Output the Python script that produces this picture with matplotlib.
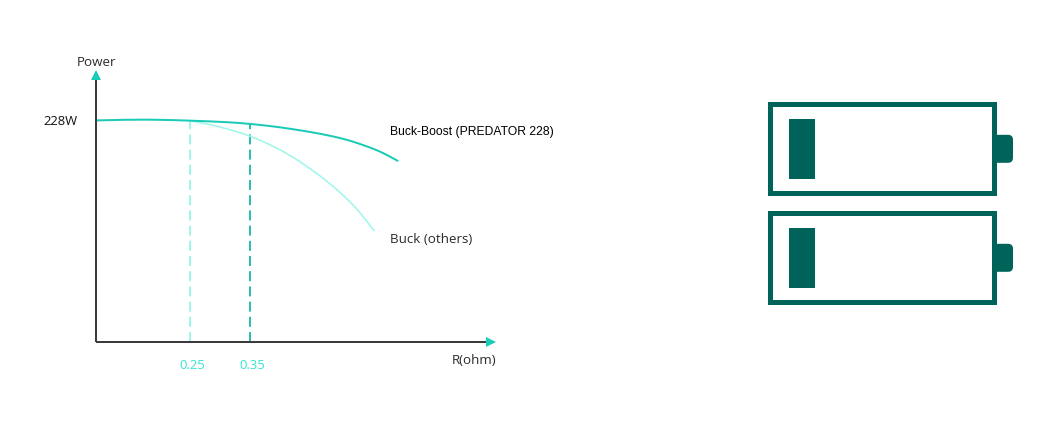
import matplotlib
matplotlib.use("Agg")
import matplotlib.pyplot as plt
from matplotlib.patches import Rectangle, FancyBboxPatch, PathPatch
from matplotlib.path import Path
from matplotlib.transforms import ScaledTranslation

W, H = 1049, 425

# Data
r_boost = [0.093, 0.15, 0.20, 0.25, 0.30, 0.333, 0.367, 0.40, 0.433, 0.467, 0.50, 0.517, 0.533, 0.55, 0.567, 0.583, 0.597]
p_boost = [227.5, 228.4, 228.2, 227.3, 226.1, 224.9, 222.9, 220.5, 217.4, 213.9, 209.5, 206.6, 203.4, 199.7, 195.5, 190.5, 185.7]
r_buck = [0.25, 0.275, 0.30, 0.325, 0.35, 0.383, 0.417, 0.45, 0.483, 0.517, 0.537, 0.557]
p_buck = [227.0, 224.4, 220.8, 216.5, 211.6, 202.8, 191.8, 178.2, 163.0, 144.1, 130.4, 114.0]
marks_r = [0.25, 0.35]
marks_p = [227.3, 224.2]
mark_labels = ["0.25", "0.35"]
y_tick = [228]
y_tick_labels = ["228W"]
name_boost = "Buck-Boost (PREDATOR 228)"
name_buck = "Buck (others)"
x_name = "R(ohm)"
y_name = "Power"

TEAL = "#1ccab8"
LIGHT = "#9ff7ea"
MID = "#2cbfb0"
CYAN = "#35e3d3"
DARK = "#00635a"
AXIS = "#3d3a3d"
TEXT = "#2b2b2b"
SANS = ["Open Sans", "Noto Sans", "DejaVu Sans"]


def smooth_path(xs, ys):
    """Quadratic curve using the read points as control points."""
    verts = [(xs[0], ys[0])]
    codes = [Path.MOVETO]
    for i in range(1, len(xs) - 1):
        end = (xs[i + 1], ys[i + 1]) if i == len(xs) - 2 else ((xs[i] + xs[i + 1]) / 2, (ys[i] + ys[i + 1]) / 2)
        verts += [(xs[i], ys[i]), end]
        codes += [Path.CURVE3, Path.CURVE3]
    return Path(verts, codes)


fig = plt.figure(figsize=(W / 100, H / 100), dpi=100, facecolor="white")

# Chart axes: pixel box 96..490 horizontally, 342..80 vertically
ax = fig.add_axes([96 / W, 1 - 342 / H, (490 - 96) / W, (342 - 80) / H])
ax.set_xlim(0.0933, 0.75)
ax.set_ylim(0, 269)
ax.patch.set_alpha(0)
for s in ax.spines.values():
    s.set_visible(False)

px = 0.72  # one pixel in points
ax.vlines(marks_r[0], 0, marks_p[0], color=LIGHT, lw=2 * px, linestyles=(0, (5, 2.6)), zorder=2)
ax.vlines(marks_r[1], 0, marks_p[1], color=MID, lw=2 * px, linestyles=(0, (5, 2.6)), zorder=2)
ax.add_patch(PathPatch(smooth_path(r_buck, p_buck), fc="none", ec=LIGHT, lw=1.6 * px, zorder=3, capstyle="butt"))
ax.add_patch(PathPatch(smooth_path(r_boost, p_boost), fc="none", ec=TEAL, lw=2 * px, zorder=4, capstyle="butt"))

# Axis lines with arrow heads
ax.plot([0, 0.995], [0, 0], transform=ax.transAxes, color=AXIS, lw=2 * px, clip_on=False, zorder=5, solid_capstyle="butt")
ax.plot([0, 0], [0, 1.01], transform=ax.transAxes, color=AXIS, lw=2 * px, clip_on=False, zorder=5, solid_capstyle="butt")
ax.plot([1.0025], [0], transform=ax.transAxes, marker=">", ms=7, mfc=TEAL, mec=TEAL, mew=0, clip_on=False, zorder=6)
ax.plot([0], [1.019], transform=ax.transAxes, marker="^", ms=7, mfc=TEAL, mec=TEAL, mew=0, clip_on=False, zorder=6)

ax.set_xticks(marks_r)
ax.set_xticklabels(mark_labels, color=CYAN, fontsize=9.4, family=SANS)
ax.set_yticks(y_tick)
ax.set_yticklabels(y_tick_labels, color="#111111", fontsize=9.4, family=SANS)
ax.tick_params(axis="x", length=0, pad=12)
ax.tick_params(axis="y", length=0, pad=13)
shift = ScaledTranslation(2.5 / 100, 0, fig.dpi_scale_trans)
for lab in ax.get_xticklabels():
    lab.set_transform(lab.get_transform() + shift)

# Full-figure overlay in pixel coordinates for labels and icons
ov = fig.add_axes([0, 0, 1, 1])
ov.set_xlim(0, W)
ov.set_ylim(H, 0)
ov.axis("off")
ov.patch.set_alpha(0)

ov.text(96.5, 62, y_name, ha="center", va="center", fontsize=9.6, color=TEXT, family=SANS)
ov.text(474, 360, x_name, ha="center", va="center", fontsize=9.6, color=TEXT, family=SANS)
ov.text(390, 131.5, name_boost, ha="left", va="center", fontsize=8.75, color="black", family="Liberation Sans")
ov.text(390, 239, name_buck, ha="left", va="center", fontsize=9.6, color=TEXT, family=SANS)

# Batteries
for top in (101.3, 210.3):
    ov.add_patch(FancyBboxPatch((985, top + 33.5), 28, 28, boxstyle="round,pad=0,rounding_size=5",
                                fc=DARK, ec="none", zorder=1))
    ov.add_patch(Rectangle((769.8, top + 2.5), 224, 89, fc="white", ec=DARK, lw=5 * px, zorder=2))
    ov.add_patch(Rectangle((788.5, top + 17.3), 26.5, 60, fc=DARK, ec="none", zorder=3))

fig.savefig("out.png", dpi=100, facecolor="white")
